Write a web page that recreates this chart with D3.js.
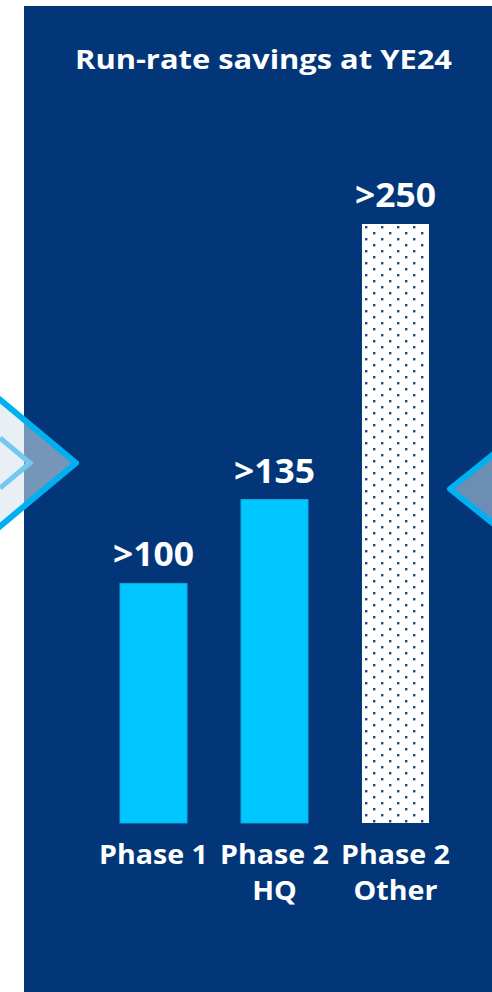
<!DOCTYPE html>
<html><head><meta charset="utf-8">
<script src="https://cdn.jsdelivr.net/npm/d3@7"></script>
<style>html,body{margin:0;padding:0;background:#fff;}svg{display:block;}</style>
</head><body>
<script>
const categories = ["Phase 1", "Phase 2\nHQ", "Phase 2\nOther"];
const values = [100, 135, 250];
const valueLabels = [">100", ">135", ">250"];
const patterned = [false, false, true];
const title = "Run-rate savings at YE24";

const W = 492, H = 992;
const svg = d3.select("body").append("svg").attr("width", W).attr("height", H);
const defs = svg.append("defs");
const pat = defs.append("pattern").attr("id","dots").attr("patternUnits","userSpaceOnUse")
  .attr("width", 16).attr("height", 12).attr("x", 362).attr("y", 224);
pat.append("rect").attr("width",16).attr("height",12).attr("fill","#ffffff");
pat.append("rect").attr("x",3).attr("y",2).attr("width",2.4).attr("height",2.4).attr("fill","#1d4a8c");
pat.append("rect").attr("x",11).attr("y",8).attr("width",2.4).attr("height",2.4).attr("fill","#1d4a8c");

// panel
svg.append("rect").attr("x",24).attr("y",6).attr("width",W-24).attr("height",H-6).attr("fill","#023679");

const font = "'Open Sans', Lato, sans-serif";

// left chevron decoration
svg.append("path").attr("d","M0,400 L76,463 L0,526 Z").attr("fill","#d6e4ef").attr("fill-opacity",0.55);
svg.append("path").attr("d","M0,438 L30,463 L0,488").attr("fill","none").attr("stroke","#72c8f0").attr("stroke-width",5);
svg.append("path").attr("d","M-2,398 L76,463 L-2,528").attr("fill","none").attr("stroke","#00b0f0").attr("stroke-width",6).attr("stroke-linejoin","round");
// right chevron decoration
svg.append("path").attr("d","M495,453 L450,489 L495,525 Z").attr("fill","#d6e4ef").attr("fill-opacity",0.5);
svg.append("path").attr("d","M495,453 L450,489 L495,525").attr("fill","none").attr("stroke","#00b0f0").attr("stroke-width",6).attr("stroke-linejoin","round");

// horizontally fit a text element (centered at cx) by a scale factor
function stretch(sel, cx, sx) {
  sel.attr("transform", `translate(${cx},0) scale(${sx},1) translate(${-cx},0)`);
}

// title
const tt = svg.append("text").attr("x",263.5).attr("y",69).attr("text-anchor","middle")
  .attr("font-family",font).attr("font-weight",700).attr("font-size",27).attr("fill","#fff").text(title);
stretch(tt, 263.5, 377 / tt.node().getComputedTextLength());

const x = d3.scaleBand().domain(categories).range([120, 429]).paddingInner(0.446).paddingOuter(0);
const y = d3.scaleLinear().domain([0, 250]).range([823, 224]);

const g = svg.append("g");
g.selectAll("rect.bar").data(values).join("rect").attr("class","bar")
  .attr("x",(d,i)=>x(categories[i])).attr("width",x.bandwidth())
  .attr("y",d=>y(d)).attr("height",d=>y(0)-y(d))
  .attr("fill",(d,i)=>patterned[i]?"url(#dots)":"#00c6ff")
  .attr("stroke",(d,i)=>patterned[i]?"none":"#13a6e0").attr("stroke-width",1);

const vals = g.selectAll("text.val").data(values).join("text").attr("class","val")
  .attr("x",(d,i)=>x(categories[i])+x.bandwidth()/2).attr("y",d=>y(d)-17)
  .attr("text-anchor","middle").attr("font-family",font).attr("font-weight",700)
  .attr("font-size",34).attr("fill","#fff").text((d,i)=>valueLabels[i]);
const vsx = 81 / vals.nodes()[2].getComputedTextLength();
vals.each(function(d,i){ stretch(d3.select(this), x(categories[i])+x.bandwidth()/2, vsx); });

const labs = [];
categories.forEach((c,i)=>{
  const lines = c.split("\n");
  const cx = x(c)+x.bandwidth()/2;
  const t = g.append("text").attr("text-anchor","middle").attr("font-family",font)
    .attr("font-weight",700).attr("font-size",27).attr("fill","#fff");
  lines.forEach((l,j)=>{
    t.append("tspan").attr("x",cx).attr("y",864+j*36).text(l);
  });
  labs.push({t, cx});
});
const probe = g.append("text").attr("font-family",font).attr("font-weight",700).attr("font-size",27).text(categories[0]);
const lsx = 109 / probe.node().getComputedTextLength();
probe.remove();
labs.forEach(o=>stretch(o.t, o.cx, lsx));
</script>
</body></html>
